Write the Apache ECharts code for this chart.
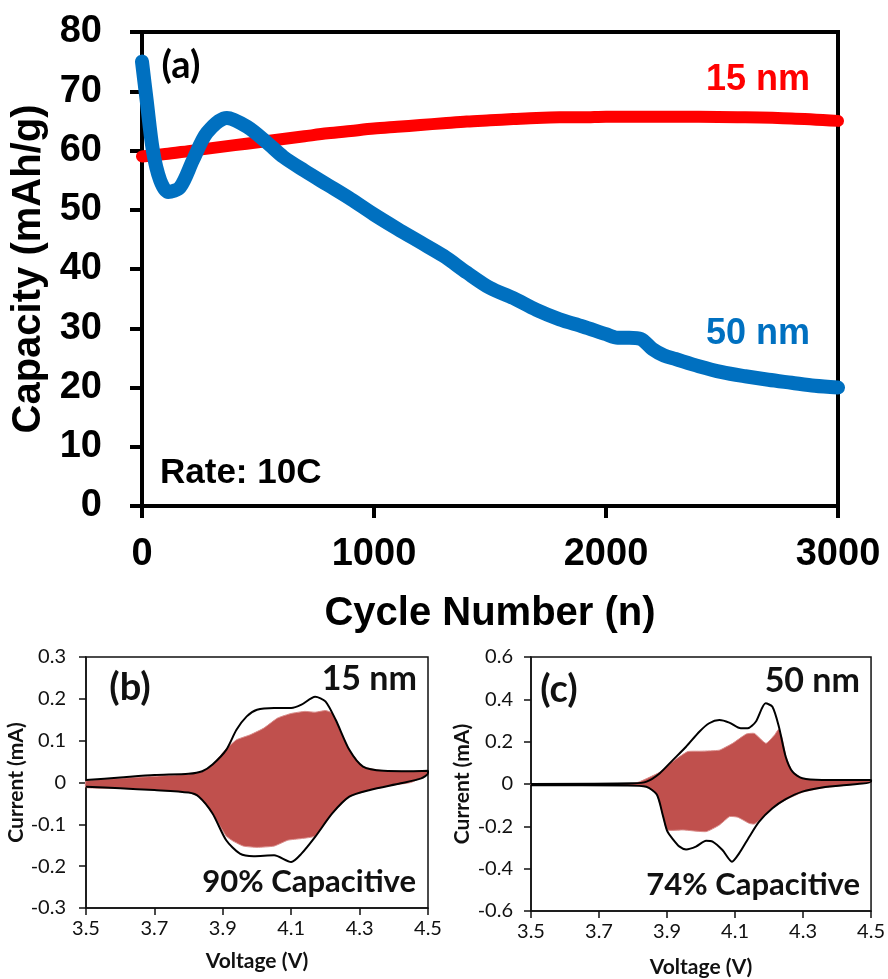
<!DOCTYPE html>
<html><head><meta charset="utf-8">
<script src="https://cdn.jsdelivr.net/npm/echarts@6/dist/echarts.min.js"></script>
<style>html,body{margin:0;padding:0;background:#fff}#c{width:888px;height:979px}</style>
</head><body><div id="c"></div>
<script>
// ---- Panel (a): capacity vs cycle number ----
const redCycles = [0,100,200,300,400,500,600,700,800,900,1000,1100,1200,1300,1400,1500,1600,1700,1800,1900,2000,2200,2400,2600,2800,3000];
const redCapacity = [59.0,59.4,59.9,60.4,60.9,61.4,61.9,62.4,62.9,63.3,63.7,64.0,64.3,64.6,64.9,65.1,65.3,65.5,65.6,65.6,65.7,65.7,65.7,65.6,65.4,65.0];
const blueCycles = [0,20,47,78,113,164,220,280,366,453,540,610,700,800,900,1000,1100,1200,1300,1400,1500,1600,1700,1800,1900,2000,2050,2100,2150,2200,2250,2300,2400,2500,2600,2700,2800,2900,3000];
const blueCapacity = [75,68.5,60,55,53,53.8,58.4,63,65.5,64,61.3,58.9,56.6,54.2,51.8,49.2,46.8,44.5,42.2,39.4,36.8,35.1,33.1,31.5,30.3,29.0,28.4,28.4,28.2,26.5,25.4,24.8,23.6,22.6,21.9,21.3,20.8,20.3,20.0];
const aXTicks = [0,1000,2000,3000];
const aYRange = [0,80];

// ---- Panel (b): 15 nm CV ----
const bCvUpper = [[3.5,0.006],[3.6,0.012],[3.7,0.018],[3.8,0.021],[3.84,0.027],[3.87,0.043],[3.91,0.078],[3.94,0.126],[3.97,0.158],[4.0,0.174],[4.05,0.178],[4.1,0.178],[4.13,0.186],[4.17,0.205],[4.2,0.194],[4.23,0.15],[4.27,0.078],[4.31,0.038],[4.37,0.028],[4.45,0.027],[4.5,0.028]];
const bCvLower = [[4.5,0.022],[4.48,0.01],[4.42,-0.002],[4.33,-0.018],[4.27,-0.034],[4.22,-0.074],[4.17,-0.13],[4.13,-0.17],[4.1,-0.19],[4.05,-0.174],[3.99,-0.176],[3.95,-0.17],[3.91,-0.138],[3.87,-0.074],[3.83,-0.034],[3.8,-0.024],[3.7,-0.018],[3.6,-0.014],[3.5,-0.01]];
const bFillUpper = [[3.5,0.004],[3.6,0.01],[3.7,0.015],[3.8,0.02],[3.84,0.026],[3.87,0.043],[3.91,0.08],[3.94,0.102],[3.98,0.114],[4.02,0.13],[4.06,0.154],[4.1,0.165],[4.14,0.17],[4.17,0.168],[4.2,0.172],[4.22,0.166],[4.24,0.13],[4.27,0.078],[4.31,0.038],[4.37,0.028],[4.45,0.027],[4.5,0.028]];
const bFillLower = [[4.5,0.02],[4.45,0.0],[4.4,-0.006],[4.33,-0.018],[4.27,-0.034],[4.22,-0.074],[4.17,-0.128],[4.13,-0.134],[4.09,-0.138],[4.05,-0.152],[4.0,-0.155],[3.96,-0.152],[3.93,-0.14],[3.91,-0.128],[3.87,-0.074],[3.83,-0.034],[3.8,-0.024],[3.7,-0.018],[3.6,-0.014],[3.5,-0.012]];

// ---- Panel (c): 50 nm CV ----
const cCvUpper = [[3.5,0.0],[3.8,0.003],[3.84,0.011],[3.878,0.05],[3.917,0.113],[3.956,0.176],[3.995,0.247],[4.024,0.287],[4.054,0.302],[4.083,0.29],[4.117,0.263],[4.137,0.263],[4.161,0.294],[4.19,0.381],[4.21,0.365],[4.229,0.271],[4.249,0.129],[4.269,0.058],[4.298,0.027],[4.356,0.019],[4.5,0.019]];
const cCvLower = [[4.5,0.011],[4.356,-0.016],[4.298,-0.036],[4.249,-0.072],[4.21,-0.115],[4.171,-0.178],[4.142,-0.249],[4.112,-0.328],[4.091,-0.367],[4.063,-0.312],[4.034,-0.272],[4.015,-0.268],[3.985,-0.296],[3.956,-0.309],[3.937,-0.296],[3.917,-0.26],[3.9,-0.22],[3.888,-0.15],[3.87,-0.05],[3.839,-0.013],[3.78,-0.007],[3.5,-0.006]];
const cFillUpper = [[3.5,0.0],[3.8,0.002],[3.82,0.011],[3.878,0.055],[3.92,0.11],[3.961,0.153],[4.0,0.155],[4.054,0.16],[4.093,0.192],[4.133,0.236],[4.157,0.239],[4.191,0.192],[4.216,0.231],[4.228,0.258],[4.238,0.22],[4.25,0.129],[4.269,0.058],[4.3,0.025],[4.36,0.017],[4.5,0.018]];
const cFillLower = [[4.5,0.008],[4.36,-0.018],[4.3,-0.038],[4.25,-0.074],[4.21,-0.115],[4.18,-0.16],[4.157,-0.189],[4.142,-0.186],[4.108,-0.157],[4.084,-0.154],[4.054,-0.194],[4.015,-0.225],[3.947,-0.217],[3.9,-0.217],[3.888,-0.15],[3.87,-0.05],[3.839,-0.012],[3.8,-0.007],[3.5,-0.004]];

const cvVoltRange = [3.5, 4.5];
const bCurrentRange = [-0.3, 0.3];
const cCurrentRange = [-0.6, 0.6];

const ARIAL = 'Liberation Sans, Arial, sans-serif';
const CAL = 'Lato, Carlito, Calibri, sans-serif';

function pairs(xs, ys){ return xs.map((x,i)=>[x, ys[i]]); }
function fmt1(v){ return Math.abs(v) < 1e-9 ? '0' : (Math.round(v*10)/10).toFixed(1); }

function fillRender(upper, lower){
  return function(params, api){
    const pts = upper.concat(lower).map(p => api.coord(p));
    return {type:'polygon', shape:{points: pts, smooth: 0.15},
      style:{fill:'#C0504D', stroke:'#D98C8A', lineWidth:1}};
  };
}

function smallX(idx){
  return {type:'value', gridIndex: idx, min: cvVoltRange[0], max: cvVoltRange[1], interval: 0.2,
    axisLine:{show:true, onZero:false, lineStyle:{color:'#111', width:1.5}},
    axisTick:{show:true, length:7, lineStyle:{color:'#111', width:1.5}},
    axisLabel:{fontSize:20, fontFamily:CAL, color:'#111', margin:11, formatter: fmt1},
    splitLine:{show:false},
    name:'Voltage (V)', nameLocation:'middle', nameGap: idx===1?43:46,
    nameTextStyle:{fontSize:21, fontWeight:'bold', fontFamily:CAL, color:'#111'}};
}
function smallY(idx, range, step, margin, gap){
  return {type:'value', gridIndex: idx, min: range[0], max: range[1], interval: step,
    axisLine:{show:true, onZero:false, lineStyle:{color:'#111', width:1.5}},
    axisTick:{show:true, length:7, lineStyle:{color:'#111', width:1.5}},
    axisLabel:{fontSize:20, fontFamily:CAL, color:'#111', margin: margin, formatter: fmt1},
    splitLine:{show:false},
    name:'Current (mA)', nameLocation:'middle', nameGap: gap,
    nameTextStyle:{fontSize:21, fontWeight:'bold', fontFamily:CAL, color:'#111'}};
}

const chart = echarts.init(document.getElementById('c'), null, {renderer:'canvas'});
const option = {
  animation:false,
  backgroundColor:'#fff',
  grid:[
    {left:142, top:32, width:696, height:474, show:true, borderColor:'#000', borderWidth:4, containLabel:false},
    {left:86, top:657, width:342, height:251, show:true, borderColor:'#111', borderWidth:1.5},
    {left:531, top:657, width:341, height:254, show:true, borderColor:'#111', borderWidth:1.5}
  ],
  xAxis:[
    {type:'value', gridIndex:0, min:aXTicks[0], max:aXTicks[aXTicks.length-1], interval:1000,
     axisLine:{show:true, onZero:false, lineStyle:{color:'#000', width:4}},
     axisTick:{show:true, length:12, lineStyle:{color:'#000', width:4}},
     axisLabel:{fontSize:38, fontWeight:'bold', fontFamily:ARIAL, color:'#000', margin:30, formatter: v => String(v)},
     splitLine:{show:false},
     name:'Cycle Number (n)', nameLocation:'middle', nameGap:88,
     nameTextStyle:{fontSize:40, fontWeight:'bold', fontFamily:ARIAL, color:'#000'}},
    smallX(1), smallX(2)
  ],
  yAxis:[
    {type:'value', gridIndex:0, min:aYRange[0], max:aYRange[1], interval:10,
     axisLine:{show:true, onZero:false, lineStyle:{color:'#000', width:4}},
     axisTick:{show:true, length:12, lineStyle:{color:'#000', width:4}},
     axisLabel:{fontSize:38, fontWeight:'bold', fontFamily:ARIAL, color:'#000', margin:40},
     splitLine:{show:false},
     name:'Capacity (mAh/g)', nameLocation:'middle', nameGap:90,
     nameTextStyle:{fontSize:40, fontWeight:'bold', fontFamily:ARIAL, color:'#000'}},
    smallY(1, bCurrentRange, 0.1, 20, 56),
    smallY(2, cCurrentRange, 0.2, 18, 58)
  ],
  series:[
    {type:'line', xAxisIndex:0, yAxisIndex:0, data: pairs(redCycles, redCapacity), symbol:'none', smooth:0.3, clip:false, z:3,
     lineStyle:{color:'#FF0000', width:12, cap:'round', join:'round'}},
    {type:'line', xAxisIndex:0, yAxisIndex:0, data: pairs(blueCycles, blueCapacity), symbol:'none', smooth:0.3, clip:false, z:4,
     lineStyle:{color:'#0070C0', width:14, cap:'round', join:'round'}},
    {type:'custom', xAxisIndex:1, yAxisIndex:1, coordinateSystem:'cartesian2d', data:[[4,0]], renderItem: fillRender(bFillUpper, bFillLower), z:2, silent:true},
    {type:'line', xAxisIndex:1, yAxisIndex:1, data: bCvUpper.concat(bCvLower), symbol:'none', smooth:0.25, z:3,
     lineStyle:{color:'#000', width:2}},
    {type:'custom', xAxisIndex:2, yAxisIndex:2, coordinateSystem:'cartesian2d', data:[[4,0]], renderItem: fillRender(cFillUpper, cFillLower), z:2, silent:true},
    {type:'line', xAxisIndex:2, yAxisIndex:2, data: cCvUpper.concat(cCvLower), symbol:'none', smooth:0.25, z:3,
     lineStyle:{color:'#000', width:2}}
  ],
  graphic:[
    {type:'text', x:181, y:66, z:10, style:{text:'(a)', font:'bold 38px '+CAL, fill:'#000', align:'center', verticalAlign:'middle'}},
    {type:'text', x:758, y:80, z:10, style:{text:'15 nm', font:'bold 36px '+ARIAL, fill:'#FF0000', align:'center', verticalAlign:'middle'}},
    {type:'text', x:758, y:334, z:10, style:{text:'50 nm', font:'bold 36px '+ARIAL, fill:'#0070C0', align:'center', verticalAlign:'middle'}},
    {type:'text', x:160, y:473, z:10, style:{text:'Rate: 10C', font:'bold 35px '+ARIAL, fill:'#000', align:'left', verticalAlign:'middle'}},
    {type:'text', x:130, y:688, z:10, style:{text:'(b)', font:'bold 38px '+CAL, fill:'#111', align:'center', verticalAlign:'middle'}},
    {type:'text', x:417, y:679, z:10, style:{text:'15 nm', font:'bold 34px '+CAL, fill:'#111', align:'right', verticalAlign:'middle'}},
    {type:'text', x:416, y:882, z:10, style:{text:'90% Capacitive', font:'bold 31px '+CAL, fill:'#111', align:'right', verticalAlign:'middle'}},
    {type:'text', x:559, y:690, z:10, style:{text:'(c)', font:'bold 38px '+CAL, fill:'#111', align:'center', verticalAlign:'middle'}},
    {type:'text', x:860, y:681, z:10, style:{text:'50 nm', font:'bold 34px '+CAL, fill:'#111', align:'right', verticalAlign:'middle'}},
    {type:'text', x:860, y:885, z:10, style:{text:'74% Capacitive', font:'bold 31px '+CAL, fill:'#111', align:'right', verticalAlign:'middle'}}
  ]
};
chart.setOption(option);
</script>
</body></html>
